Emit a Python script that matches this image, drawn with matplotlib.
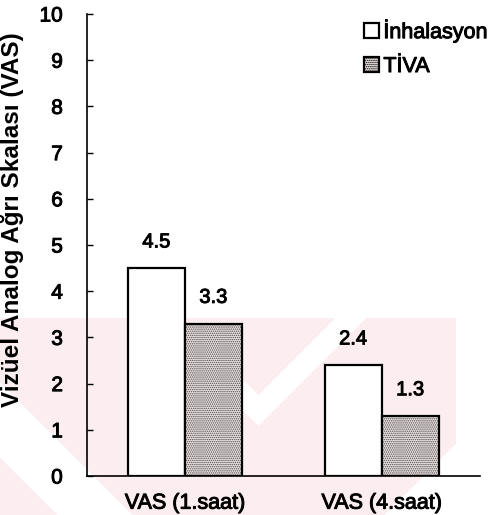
import numpy as np
import matplotlib
matplotlib.use("Agg")
import matplotlib.pyplot as plt
import matplotlib.patheffects as pe
from matplotlib.patches import Rectangle

plt.rcParams["font.family"] = ["Liberation Sans", "DejaVu Sans"]
plt.rcParams["hatch.linewidth"] = 0.7

# veriler
kategoriler = ["VAS (1.saat)", "VAS (4.saat)"]
inhalasyon = [4.5, 2.4]
tiva = [3.3, 1.3]
seri_adlari = ["İnhalasyon", "TİVA"]
y_ticks = list(range(0, 11))

# yazıları biraz kalınlaştırmak için
kalin = [pe.withStroke(linewidth=0.7, foreground="black")]

fig = plt.figure(figsize=(4.88, 5.15), dpi=100)

# arka plandaki soluk pembe filigran (şerit desenli V)
H, W = 515, 488
yy, xx = np.mgrid[0:H, 0:W]
u = yy + np.abs(xx - 258)
maske = (yy >= 318) & (xx <= 455)
maske &= ~(((u >= 395) & (u <= 425)) | ((u >= 641) & (u <= 715)))
filigran = np.ones((H, W, 4))
filigran[..., 3] = 0
filigran[maske] = [0.992, 0.935, 0.942, 1.0]
fig.figimage(filigran, xo=0, yo=0, origin="upper", zorder=0)

ax = fig.add_axes([86.5 / 488, 39 / 515, 393.5 / 488, 462 / 515])
ax.set_zorder(1)
ax.patch.set_alpha(0)

x = np.arange(len(kategoriler))
w = 0.29
b1 = ax.bar(x - w / 2, inhalasyon, w, color="white", edgecolor="black",
            linewidth=1.6, label=seri_adlari[0], zorder=2)
b2 = ax.bar(x + w / 2, tiva, w, color="#ebe2e3", edgecolor="black",
            linewidth=1.6, hatch="........", label=seri_adlari[1], zorder=2)
for p in b2:
    p._hatch_color = (0.3, 0.28, 0.28, 1.0)

# çubukların üstündeki değerler
for bars, vals in ((b1, inhalasyon), (b2, tiva)):
    for p, v in zip(bars, vals):
        ax.annotate(f"{v:.1f}", (p.get_x() + p.get_width() / 2, v),
                    xytext=(0, 12), textcoords="offset points",
                    ha="center", va="bottom", fontsize=14.5, path_effects=kalin)

ax.set_xlim(-0.5, 1.5)
ax.set_ylim(0, 10)
ax.set_yticks(y_ticks)
ax.set_xticks(x)
ax.set_xticklabels(kategoriler, fontsize=15.5)
ax.tick_params(axis="y", direction="in", length=4, width=1, pad=17, labelsize=15)
ax.tick_params(axis="x", length=0, pad=12)
for t in ax.get_xticklabels() + ax.get_yticklabels():
    t.set_path_effects(kalin)
for s in ("top", "right"):
    ax.spines[s].set_visible(False)
for s in ("left", "bottom"):
    ax.spines[s].set_linewidth(1.2)

ax.set_ylabel("Vizüel Analog Ağrı Skalası (VAS)", fontsize=17.5,
              fontweight="bold")
ax.yaxis.set_label_coords(-0.16, 0.554)

handles = [Rectangle((0, 0), 1, 1, facecolor="white", edgecolor="black", linewidth=1.6),
           Rectangle((0, 0), 1, 1, facecolor="#ebe2e3", edgecolor="black",
                     linewidth=1.6, hatch="........")]
leg = fig.legend(handles, seri_adlari, loc="upper left",
                 bbox_to_anchor=(364 / 488, 1 - 19 / 515), frameon=False,
                 fontsize=15.5, handlelength=0.7, handleheight=0.7,
                 handletextpad=0.2, labelspacing=0.6, borderpad=0, borderaxespad=0)
for t in leg.get_texts():
    t.set_path_effects(kalin)

fig.savefig("out.png", dpi=100)
